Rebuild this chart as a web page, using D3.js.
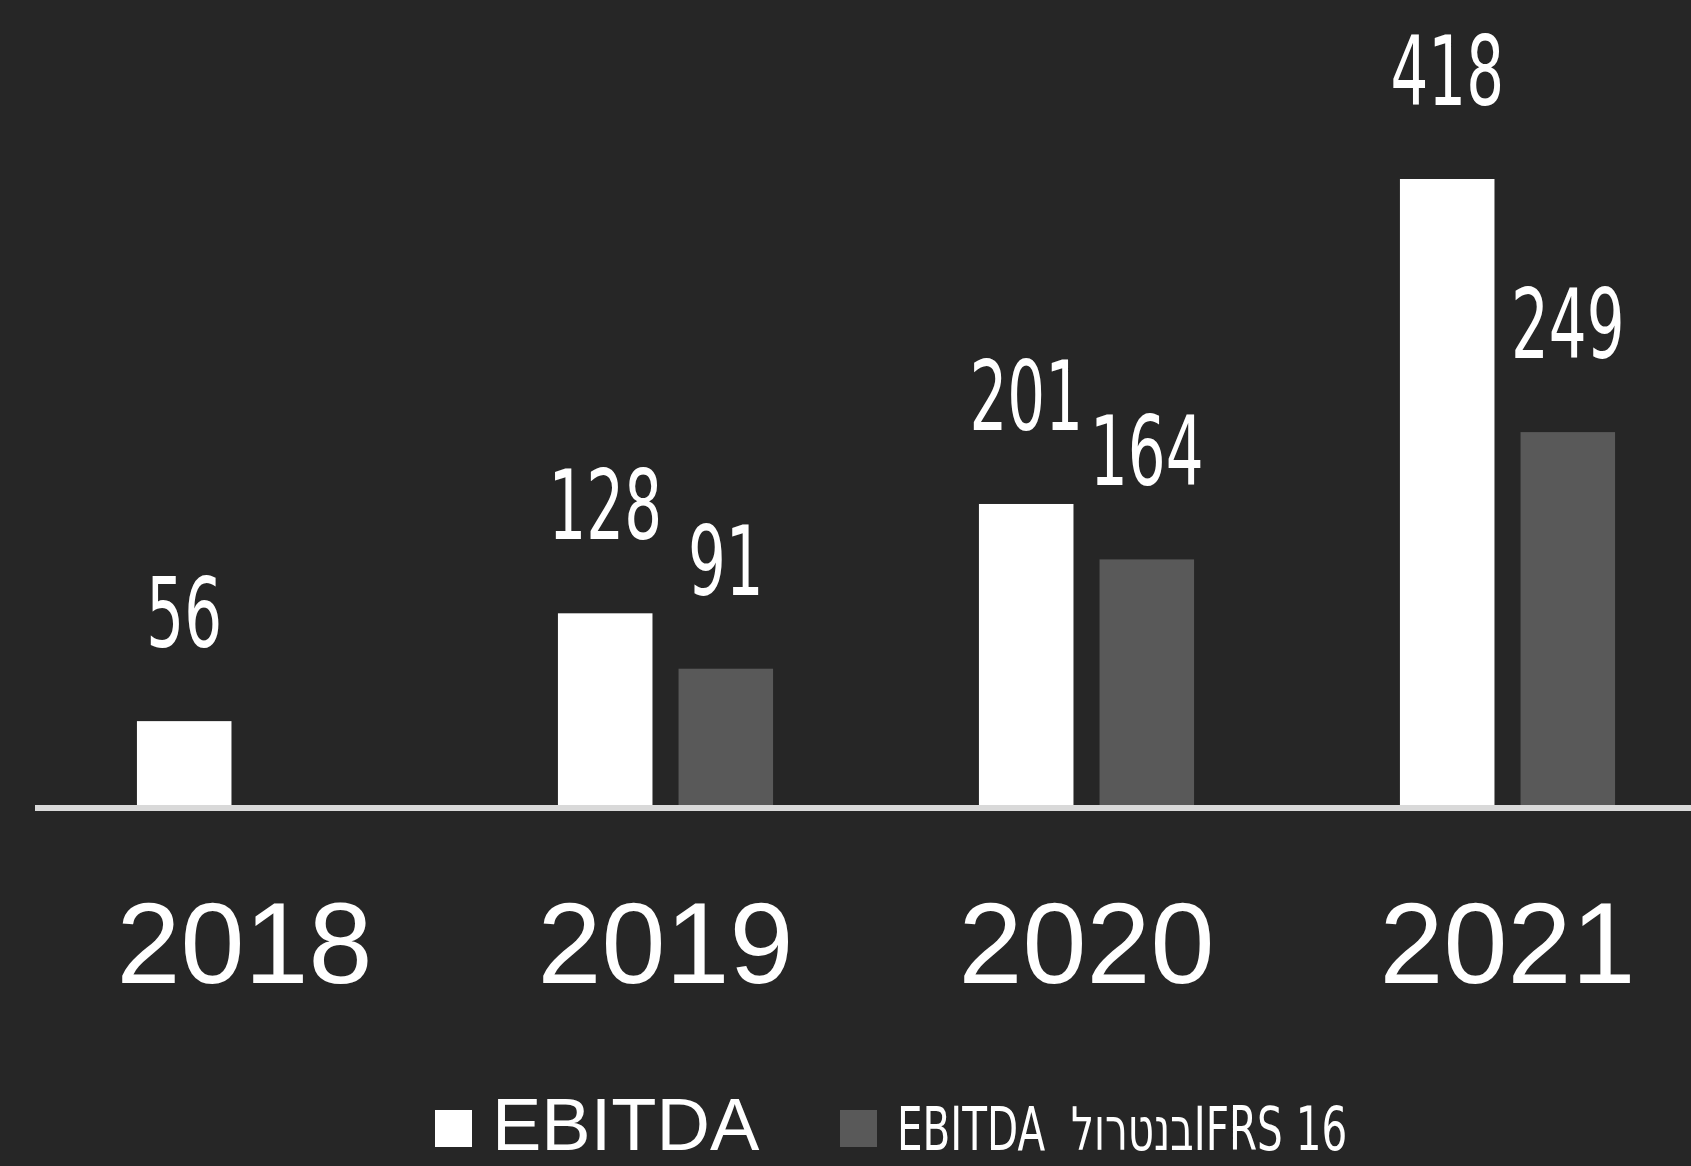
<!DOCTYPE html>
<html>
<head>
<meta charset="utf-8">
<script src="https://cdn.jsdelivr.net/npm/d3@7"></script>
<style>
  html, body { margin: 0; padding: 0; background: #262626; }
  svg { display: block; }
</style>
</head>
<body>
<svg id="chart" width="1691" height="1166"></svg>
<script>
// ---- data ----
const years = ["2018", "2019", "2020", "2021"];
const seriesNames = ["EBITDA", "EBITDA בנטרול IFRS 16"];
const ebitda = [56, 128, 201, 418];
const ebitdaExIFRS = [null, 91, 164, 249];
const legendLabels = ["EBITDA", "EBITDA\u00A0 בנטרולIFRS 16"];
const seriesColors = ["#ffffff", "#595959"];

// ---- layout ----
const W = 1691, H = 1166;
const svg = d3.select("#chart");
svg.append("rect").attr("width", W).attr("height", H).attr("fill", "#262626");

const x0 = d3.scaleBand().domain(years).range([34, 1718]).paddingInner(0.489).paddingOuter(0.2445);
const x1 = d3.scaleBand().domain(seriesNames).range([0, x0.bandwidth()]).paddingInner(0.216).paddingOuter(0);
const y = d3.scaleLinear().domain([0, 418]).range([805, 179]);

const rows = years.map((yr, i) => ({
  year: yr,
  values: [
    { key: seriesNames[0], value: ebitda[i], color: seriesColors[0] },
    { key: seriesNames[1], value: ebitdaExIFRS[i], color: seriesColors[1] }
  ].filter(d => d.value != null)
}));

const groups = svg.append("g").selectAll("g").data(rows).join("g")
  .attr("transform", d => `translate(${x0(d.year)},0)`);

groups.selectAll("rect").data(d => d.values).join("rect")
  .attr("x", d => x1(d.key))
  .attr("y", d => y(d.value))
  .attr("width", x1.bandwidth())
  .attr("height", d => y(0) - y(d.value))
  .attr("fill", d => d.color);

groups.selectAll("text.val").data(d => d.values).join("text")
  .attr("class", "val")
  .attr("transform", d => `translate(${x1(d.key) + x1.bandwidth() / 2},${y(d.value) - 74}) scale(0.62,1)`)
  .attr("text-anchor", "middle")
  .attr("font-family", "DejaVu Sans")
  .attr("font-size", 96)
  .attr("fill", "#ffffff")
  .text(d => d.value);

// axis baseline
const xAxis = d3.axisBottom(x0).tickSize(0).tickPadding(0).tickFormat("");
const axisG = svg.append("g").attr("transform", `translate(0,${y(0) + 3})`).call(xAxis);
axisG.select(".domain").remove();
axisG.append("line")
  .attr("x1", 35).attr("x2", W)
  .attr("y1", 0).attr("y2", 0)
  .attr("stroke", "#d9d9d9").attr("stroke-width", 6);

// year labels
svg.append("g").selectAll("text").data(years).join("text")
  .attr("x", d => x0(d) + x0.bandwidth() / 2)
  .attr("y", 983)
  .attr("text-anchor", "middle")
  .attr("font-family", "Liberation Sans, Arial, sans-serif")
  .attr("font-size", 115)
  .attr("fill", "#ffffff")
  .text(d => d);

// legend
const legend = svg.append("g");
legend.append("rect").attr("x", 435).attr("y", 1110).attr("width", 37).attr("height", 37).attr("fill", seriesColors[0]);
legend.append("text")
  .attr("x", 492).attr("y", 1150)
  .attr("font-family", "Liberation Sans, Arial, sans-serif")
  .attr("font-size", 74)
  .attr("fill", "#ffffff")
  .text(legendLabels[0]);
legend.append("rect").attr("x", 840).attr("y", 1110).attr("width", 37).attr("height", 37).attr("fill", seriesColors[1]);
legend.append("text")
  .attr("transform", "translate(897,1150) scale(0.675,1)")
  .attr("direction", "ltr")
  .attr("font-family", "DejaVu Sans")
  .attr("font-size", 60)
  .attr("fill", "#ffffff")
  .text(legendLabels[1]);
</script>
</body>
</html>
